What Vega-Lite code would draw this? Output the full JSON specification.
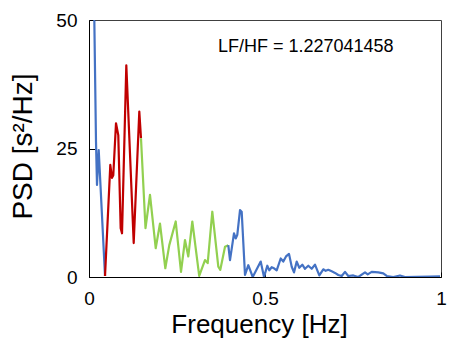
{
  "$schema": "https://vega.github.io/schema/vega-lite/v6.json",
  "width": 352,
  "height": 257,
  "autosize": "none",
  "padding": {"left": 89, "top": 20, "right": 8, "bottom": 65},
  "background": "white",
  "config": {
    "view": {"stroke": "#404040", "strokeWidth": 1},
    "font": "Liberation Sans"
  },
  "datasets": {
    "psd": [
      {"f": 0.0111, "psd": 70, "seg": "VLF"},
      {"f": 0.0199, "psd": 26.3, "seg": "VLF"},
      {"f": 0.0227, "psd": 17.9, "seg": "VLF"},
      {"f": 0.0276, "psd": 24.7, "seg": "VLF"},
      {"f": 0.0455, "psd": 0.2, "seg": "VLF"},
      {"f": 0.0455, "psd": 0.2, "seg": "LF"},
      {"f": 0.0605, "psd": 21.8, "seg": "LF"},
      {"f": 0.0653, "psd": 19.3, "seg": "LF"},
      {"f": 0.069, "psd": 19.8, "seg": "LF"},
      {"f": 0.0767, "psd": 29.9, "seg": "LF"},
      {"f": 0.0832, "psd": 27.6, "seg": "LF"},
      {"f": 0.09, "psd": 9.5, "seg": "LF"},
      {"f": 0.0938, "psd": 8.5, "seg": "LF"},
      {"f": 0.106, "psd": 41.2, "seg": "LF"},
      {"f": 0.127, "psd": 6.6, "seg": "LF"},
      {"f": 0.1429, "psd": 32.2, "seg": "LF"},
      {"f": 0.1477, "psd": 27, "seg": "LF"},
      {"f": 0.1477, "psd": 27, "seg": "HF"},
      {"f": 0.1605, "psd": 9.5, "seg": "HF"},
      {"f": 0.1733, "psd": 16, "seg": "HF"},
      {"f": 0.1895, "psd": 5.6, "seg": "HF"},
      {"f": 0.2017, "psd": 10.4, "seg": "HF"},
      {"f": 0.2168, "psd": 1.7, "seg": "HF"},
      {"f": 0.2281, "psd": 6.2, "seg": "HF"},
      {"f": 0.2463, "psd": 10.8, "seg": "HF"},
      {"f": 0.2614, "psd": 1, "seg": "HF"},
      {"f": 0.2727, "psd": 7.2, "seg": "HF"},
      {"f": 0.2821, "psd": 4, "seg": "HF"},
      {"f": 0.2935, "psd": 10.8, "seg": "HF"},
      {"f": 0.3131, "psd": 0.2, "seg": "HF"},
      {"f": 0.3295, "psd": 3.3, "seg": "HF"},
      {"f": 0.3372, "psd": 2.7, "seg": "HF"},
      {"f": 0.3503, "psd": 12.7, "seg": "HF"},
      {"f": 0.3673, "psd": 2, "seg": "HF"},
      {"f": 0.373, "psd": 1.4, "seg": "HF"},
      {"f": 0.3864, "psd": 5.9, "seg": "HF"},
      {"f": 0.3957, "psd": 6.2, "seg": "HF"},
      {"f": 0.3957, "psd": 6.2, "seg": "REST"},
      {"f": 0.4006, "psd": 3.3, "seg": "REST"},
      {"f": 0.4119, "psd": 8.5, "seg": "REST"},
      {"f": 0.4168, "psd": 7.5, "seg": "REST"},
      {"f": 0.4213, "psd": 8.2, "seg": "REST"},
      {"f": 0.429, "psd": 13, "seg": "REST"},
      {"f": 0.4338, "psd": 12.7, "seg": "REST"},
      {"f": 0.4432, "psd": 0.4, "seg": "REST"},
      {"f": 0.4526, "psd": 2.3, "seg": "REST"},
      {"f": 0.4651, "psd": 0, "seg": "REST"},
      {"f": 0.4878, "psd": 3, "seg": "REST"},
      {"f": 0.4972, "psd": 0, "seg": "REST"},
      {"f": 0.5065, "psd": 2.2, "seg": "REST"},
      {"f": 0.5122, "psd": 1.3, "seg": "REST"},
      {"f": 0.519, "psd": 1.9, "seg": "REST"},
      {"f": 0.5256, "psd": 1.7, "seg": "REST"},
      {"f": 0.5332, "psd": 1.3, "seg": "REST"},
      {"f": 0.5446, "psd": 3.6, "seg": "REST"},
      {"f": 0.552, "psd": 3, "seg": "REST"},
      {"f": 0.5597, "psd": 4, "seg": "REST"},
      {"f": 0.5682, "psd": 4.5, "seg": "REST"},
      {"f": 0.5759, "psd": 2, "seg": "REST"},
      {"f": 0.5824, "psd": 0.9, "seg": "REST"},
      {"f": 0.5901, "psd": 3, "seg": "REST"},
      {"f": 0.5974, "psd": 1.8, "seg": "REST"},
      {"f": 0.606, "psd": 2.4, "seg": "REST"},
      {"f": 0.6136, "psd": 1.6, "seg": "REST"},
      {"f": 0.623, "psd": 2.2, "seg": "REST"},
      {"f": 0.6327, "psd": 1.6, "seg": "REST"},
      {"f": 0.642, "psd": 2.4, "seg": "REST"},
      {"f": 0.6543, "psd": 0.3, "seg": "REST"},
      {"f": 0.6656, "psd": 1.5, "seg": "REST"},
      {"f": 0.6724, "psd": 1.2, "seg": "REST"},
      {"f": 0.6798, "psd": 1.4, "seg": "REST"},
      {"f": 0.6895, "psd": 1.1, "seg": "REST"},
      {"f": 0.6989, "psd": 0.8, "seg": "REST"},
      {"f": 0.7082, "psd": 0.4, "seg": "REST"},
      {"f": 0.7179, "psd": 0.2, "seg": "REST"},
      {"f": 0.7273, "psd": 1, "seg": "REST"},
      {"f": 0.7366, "psd": 0.2, "seg": "REST"},
      {"f": 0.7509, "psd": 0.3, "seg": "REST"},
      {"f": 0.7651, "psd": 0, "seg": "REST"},
      {"f": 0.7841, "psd": 0.9, "seg": "REST"},
      {"f": 0.7918, "psd": 0.5, "seg": "REST"},
      {"f": 0.8031, "psd": 1, "seg": "REST"},
      {"f": 0.8219, "psd": 0.9, "seg": "REST"},
      {"f": 0.8361, "psd": 0.7, "seg": "REST"},
      {"f": 0.8457, "psd": 0.2, "seg": "REST"},
      {"f": 0.8645, "psd": 0, "seg": "REST"},
      {"f": 0.8835, "psd": 0.3, "seg": "REST"},
      {"f": 0.8977, "psd": 0, "seg": "REST"},
      {"f": 0.931, "psd": 0.05, "seg": "REST"},
      {"f": 0.9688, "psd": 0.1, "seg": "REST"},
      {"f": 0.9972, "psd": 0.15, "seg": "REST"}
    ],
    "note": [{"label": "LF/HF = 1.227041458"}]
  },
  "layer": [
    {
      "data": {"name": "psd"},
      "mark": {"type": "line", "strokeWidth": 2.2, "clip": true, "strokeJoin": "round"},
      "encoding": {
        "x": {
          "field": "f", "type": "quantitative",
          "scale": {"domain": [0, 1], "nice": false, "zero": false},
          "axis": {
            "values": [0, 0.5, 1], "grid": false, "format": "~g",
            "title": "Frequency [Hz]",
            "domainColor": "#000000", "domainWidth": 1,
            "tickColor": "#000000", "tickSize": -5,
            "labelFont": "Liberation Sans", "labelFontSize": 19, "labelColor": "#000000",
            "labelPadding": 17, "labelFlush": false,
            "titleFont": "Liberation Sans", "titleFontSize": 26, "titleFontWeight": "normal",
            "titleColor": "#000000", "titleX": 170, "titleY": 55,
            "titleBaseline": "alphabetic", "titleAlign": "center"
          }
        },
        "y": {
          "field": "psd", "type": "quantitative",
          "scale": {"domain": [0, 50], "nice": false},
          "axis": {
            "values": [0, 25, 50], "grid": false, "format": "d",
            "title": "PSD [s²/Hz]",
            "domainColor": "#000000", "domainWidth": 1,
            "tickColor": "#000000", "tickSize": -6,
            "labelFont": "Liberation Sans", "labelFontSize": 19, "labelColor": "#000000",
            "labelPadding": 18, "labelFlush": false,
            "titleFont": "Liberation Sans", "titleFontSize": 28, "titleFontWeight": "normal",
            "titleColor": "#000000", "titleAngle": -90, "titleX": -58, "titleY": 126,
            "titleBaseline": "alphabetic", "titleAlign": "center"
          }
        },
        "color": {
          "field": "seg", "type": "nominal",
          "scale": {"domain": ["VLF", "LF", "HF", "REST"], "range": ["#4472C4", "#C00000", "#92D050", "#4472C4"]},
          "legend": null
        }
      }
    },
    {
      "data": {"name": "note"},
      "mark": {"type": "text", "align": "left", "baseline": "middle", "font": "Liberation Sans", "fontSize": 18, "color": "#000000"},
      "encoding": {
        "x": {"datum": 0.3665},
        "y": {"datum": 44.7},
        "text": {"field": "label"}
      }
    }
  ]
}
